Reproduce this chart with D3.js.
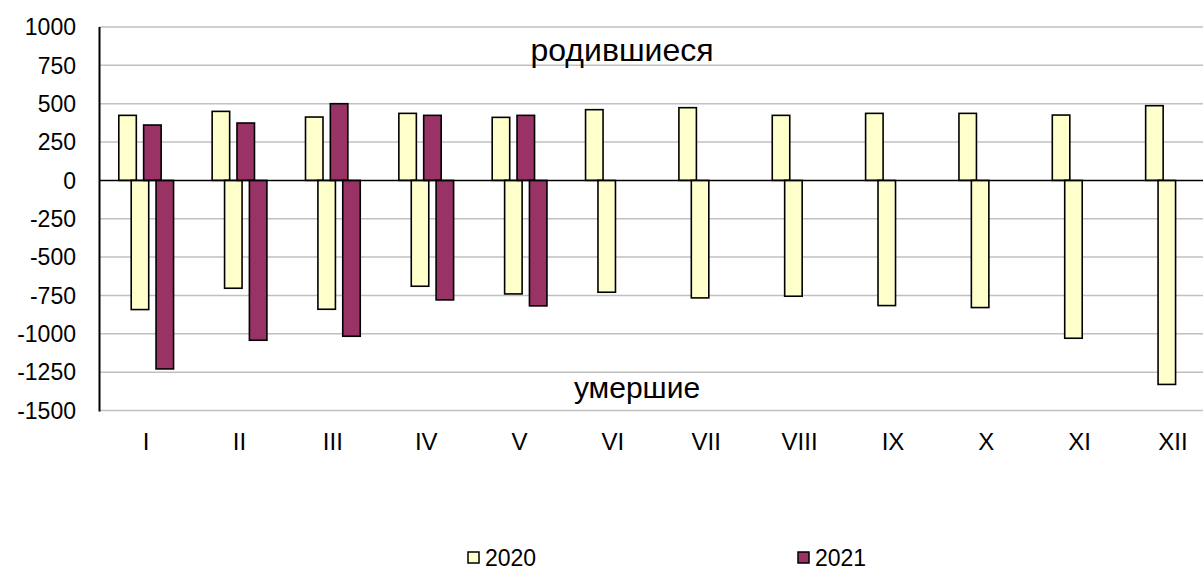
<!DOCTYPE html>
<html>
<head>
<meta charset="utf-8">
<script src="https://cdn.jsdelivr.net/npm/d3@7"></script>
<style>
  html, body { margin: 0; padding: 0; background: #fff; }
  svg { display: block; font-family: "Liberation Sans", Arial, sans-serif; }
</style>
</head>
<body>
<div id="chart"></div>
<script>
// months and values
const months = ["I", "II", "III", "IV", "V", "VI", "VII", "VIII", "IX", "X", "XI", "XII"];
const births2020 = [424, 450, 413, 437, 411, 461, 474, 424, 437, 437, 426, 487];
const deaths2020 = [-842, -703, -840, -690, -740, -729, -766, -755, -816, -829, -1029, -1330];
const births2021 = [361, 374, 500, 424, 424];
const deaths2021 = [-1229, -1042, -1016, -779, -818];
const yTicks = [-1500, -1250, -1000, -750, -500, -250, 0, 250, 500, 750, 1000];
const years = ["2020", "2021"];
const colors = {"2020": "#ffffcc", "2021": "#993366"};

const width = 1203;
const height = 572;

const svg = d3.select("#chart").append("svg")
    .attr("width", width)
    .attr("height", height);

const x = d3.scaleBand()
    .domain(months)
    .range([99.5, 1219.7]);

const y = d3.scaleLinear()
    .domain([-1500, 1000])
    .range([410.5, 27]);

// gridlines
svg.append("g")
  .selectAll("line")
  .data(yTicks.filter(d => d !== 0))
  .join("line")
    .attr("x1", 99.5)
    .attr("x2", width)
    .attr("y1", d => y(d))
    .attr("y2", d => y(d))
    .attr("stroke", "#c0c0c0")
    .attr("stroke-width", 1.5);

// y tick labels
svg.append("g")
  .selectAll("text")
  .data(yTicks)
  .join("text")
    .attr("x", 76)
    .attr("y", d => y(d))
    .attr("dy", "0.36em")
    .attr("text-anchor", "end")
    .attr("font-size", 23)
    .attr("fill", "#000")
    .text(d => d);

// series: slot order inside each month
const series = [
  {year: "2020", values: births2020},
  {year: "2020", values: deaths2020},
  {year: "2021", values: births2021},
  {year: "2021", values: deaths2021}
];

const bw = x.bandwidth();
const barW = bw * 0.1875;
const slotStep = bw * 0.133;
const firstSlot = bw / 2 - (barW + slotStep * 3) / 2;

series.forEach((s, i) => {
  svg.append("g")
    .selectAll("rect")
    .data(s.values)
    .join("rect")
      .attr("x", (d, j) => x(months[j]) + firstSlot + i * slotStep)
      .attr("width", barW)
      .attr("y", d => y(Math.max(0, d)))
      .attr("height", d => Math.abs(y(d) - y(0)))
      .attr("fill", colors[s.year])
      .attr("stroke", "#000")
      .attr("stroke-width", 1.6);
});

// zero line and y axis
svg.append("line")
    .attr("x1", 99.5).attr("x2", width)
    .attr("y1", y(0)).attr("y2", y(0))
    .attr("stroke", "#000")
    .attr("stroke-width", 1.5);

svg.append("line")
    .attr("x1", 99.5).attr("x2", 99.5)
    .attr("y1", y(1000)).attr("y2", y(-1500) + 1)
    .attr("stroke", "#000")
    .attr("stroke-width", 2);

// month labels
svg.append("g")
  .selectAll("text")
  .data(months)
  .join("text")
    .attr("x", d => x(d) + bw / 2)
    .attr("y", 450)
    .attr("text-anchor", "middle")
    .attr("font-size", 24)
    .text(d => d);

// annotations
svg.append("text")
    .attr("x", 622)
    .attr("y", 61)
    .attr("text-anchor", "middle")
    .attr("font-size", 32)
    .text("родившиеся");

svg.append("text")
    .attr("x", 637)
    .attr("y", 398)
    .attr("text-anchor", "middle")
    .attr("font-size", 30)
    .text("умершие");

// legend
const legendX = [468, 798];
const legend = svg.append("g")
  .selectAll("g")
  .data(years)
  .join("g")
    .attr("transform", (d, i) => `translate(${legendX[i]},552)`);

legend.append("rect")
    .attr("width", 11)
    .attr("height", 11)
    .attr("fill", d => colors[d])
    .attr("stroke", "#000")
    .attr("stroke-width", 1.5);

legend.append("text")
    .attr("x", 17)
    .attr("y", 14)
    .attr("font-size", 23)
    .text(d => d);
</script>
</body>
</html>
